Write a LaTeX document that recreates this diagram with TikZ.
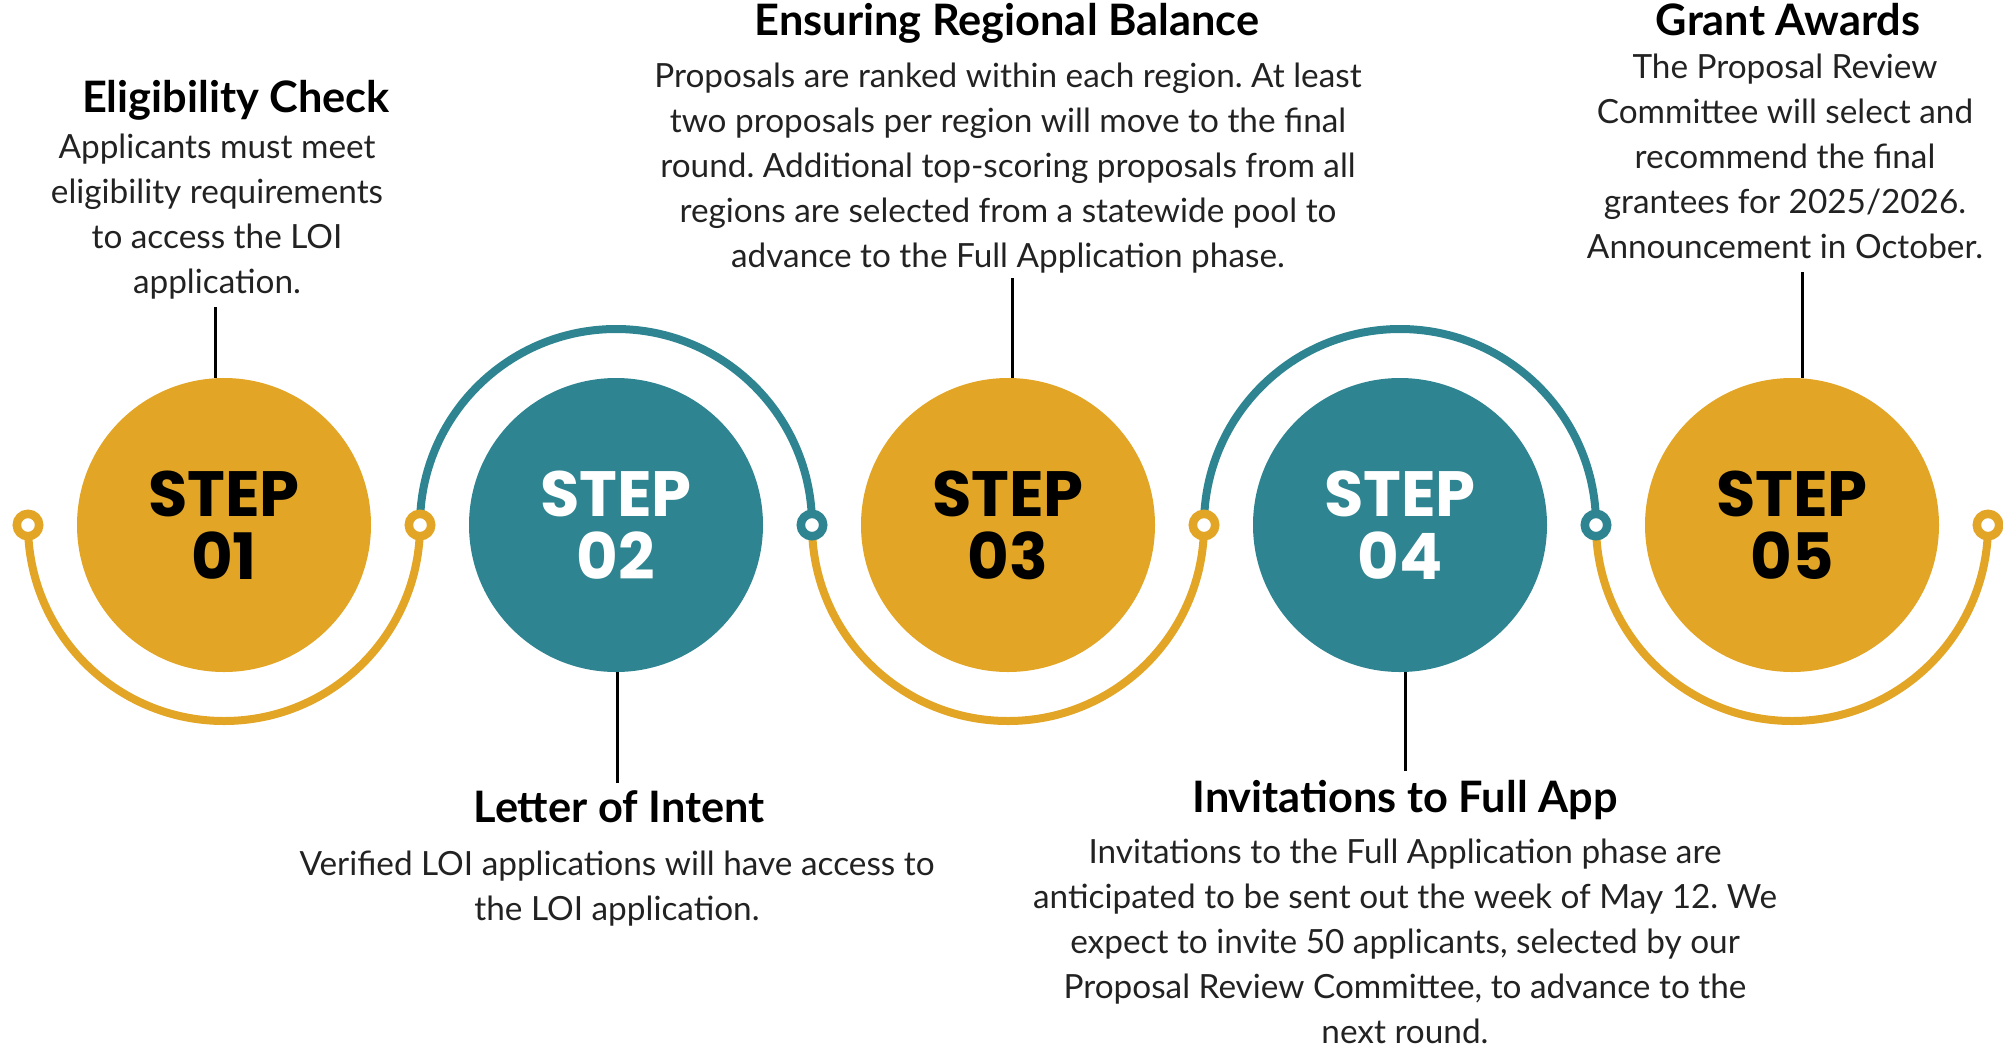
\documentclass[tikz,border=0pt]{standalone}
\usepackage{fontspec}
\setmainfont{Lato}
\newfontfamily\stepfont{Poppins}
\usepackage{xcolor}
\usepackage{tikz}
\definecolor{stepgold}{RGB}{226,165,38}
\definecolor{stepteal}{RGB}{46,133,145}
\definecolor{notegray}{RGB}{34,34,34}
\frenchspacing

\begin{document}
\begin{tikzpicture}[x=0.75pt,y=0.75pt,yscale=-1,xscale=1,
  disc/.style={circle,inner sep=0pt,minimum size=220.5pt,align=center,font=\stepfont\bfseries\fontsize{48}{47.25}\selectfont},
  joint/.style={circle,inner sep=0pt,minimum size=16.8pt,fill=white,line width=6.4pt},
  track/.style={line width=6pt},
  stem/.style={line width=2.25pt,black},
  title/.style={anchor=base,inner sep=0pt,font=\bfseries\fontsize{32.5}{38}\selectfont},
  note/.style={anchor=base,inner sep=0pt,align=center,text=notegray,font=\fontsize{25}{33.75}\selectfont}]
\path[use as bounding box] (0,0) rectangle (2003,1047);
%Joint points along the track
\coordinate (p0) at (28,525);
\coordinate (p1) at (420,525);
\coordinate (p2) at (812,525);
\coordinate (p3) at (1204,525);
\coordinate (p4) at (1596,525);
\coordinate (p5) at (1988,525);
%Arcs: gold below, teal above
\draw [track,stepgold] (p0) arc[start angle=180,end angle=0,radius=196];
\draw [track,stepteal] (p1) arc[start angle=180,end angle=360,radius=196];
\draw [track,stepgold] (p2) arc[start angle=180,end angle=0,radius=196];
\draw [track,stepteal] (p3) arc[start angle=180,end angle=360,radius=196];
\draw [track,stepgold] (p4) arc[start angle=180,end angle=0,radius=196];
%Shape: Ring
\node (j0) [joint,draw=stepgold] at (p0) {};
\node (j1) [joint,draw=stepgold] at (p1) {};
\node (j2) [joint,draw=stepteal] at (p2) {};
\node (j3) [joint,draw=stepgold] at (p3) {};
\node (j4) [joint,draw=stepteal] at (p4) {};
\node (j5) [joint,draw=stepgold] at (p5) {};
%Shape: Circle
\node (step1) [disc,fill=stepgold,text=black] at (224,525) {STEP\\01};
\node (step2) [disc,fill=stepteal,text=white] at (616,525) {STEP\\02};
\node (step3) [disc,fill=stepgold,text=black] at (1008,525) {STEP\\03};
\node (step4) [disc,fill=stepteal,text=white] at (1400,525) {STEP\\04};
\node (step5) [disc,fill=stepgold,text=black] at (1792,525) {STEP\\05};
% Text Node (note nodes sit on their last baseline)
\node (t1) [title] at (236,112) {Eligibility Check};
\node (d1) [note] at (217,293) {Applicants must meet\\eligibility requirements\\to access the LOI\\application.};
% Text Node
\node (t2) [title] at (619,822) {Letter of Intent};
\node (d2) [note] at (617,920) {Verified LOI applications will have access to\\the LOI application.};
% Text Node
\node (t3) [title] at (1007,35) {Ensuring Regional Balance};
\node (d3) [note] at (1008,267) {Proposals are ranked within each region. At least\\two proposals per region will move to the final\\round. Additional top-scoring proposals from all\\regions are selected from a statewide pool to\\advance to the Full Application phase.};
% Text Node
\node (t4) [title] at (1405,812) {Invitations to Full App};
\node (d4) [note] at (1405,1043) {Invitations to the Full Application phase are\\anticipated to be sent out the week of May 12. We\\expect to invite 50 applicants, selected by our\\Proposal Review Committee, to advance to the\\next round.};
% Text Node
\node (t5) [title] at (1788,35) {Grant Awards};
\node (d5) [note] at (1785,258) {The Proposal Review\\Committee will select and\\recommend the final\\grantees for 2025/2026.\\Announcement in October.};
%Straight Lines
\coordinate (e1) at (215,307);
\coordinate (e2) at (617,783);
\coordinate (e3) at (1012,278);
\coordinate (e4) at (1405,771);
\coordinate (e5) at (1802,272);
\draw [stem] (e1) -- (e1 |- step1.north);
\draw [stem] (e2) -- (e2 |- step2.south);
\draw [stem] (e3) -- (e3 |- step3.north);
\draw [stem] (e4) -- (e4 |- step4.south);
\draw [stem] (e5) -- (e5 |- step5.north);
\end{tikzpicture}
\end{document}
